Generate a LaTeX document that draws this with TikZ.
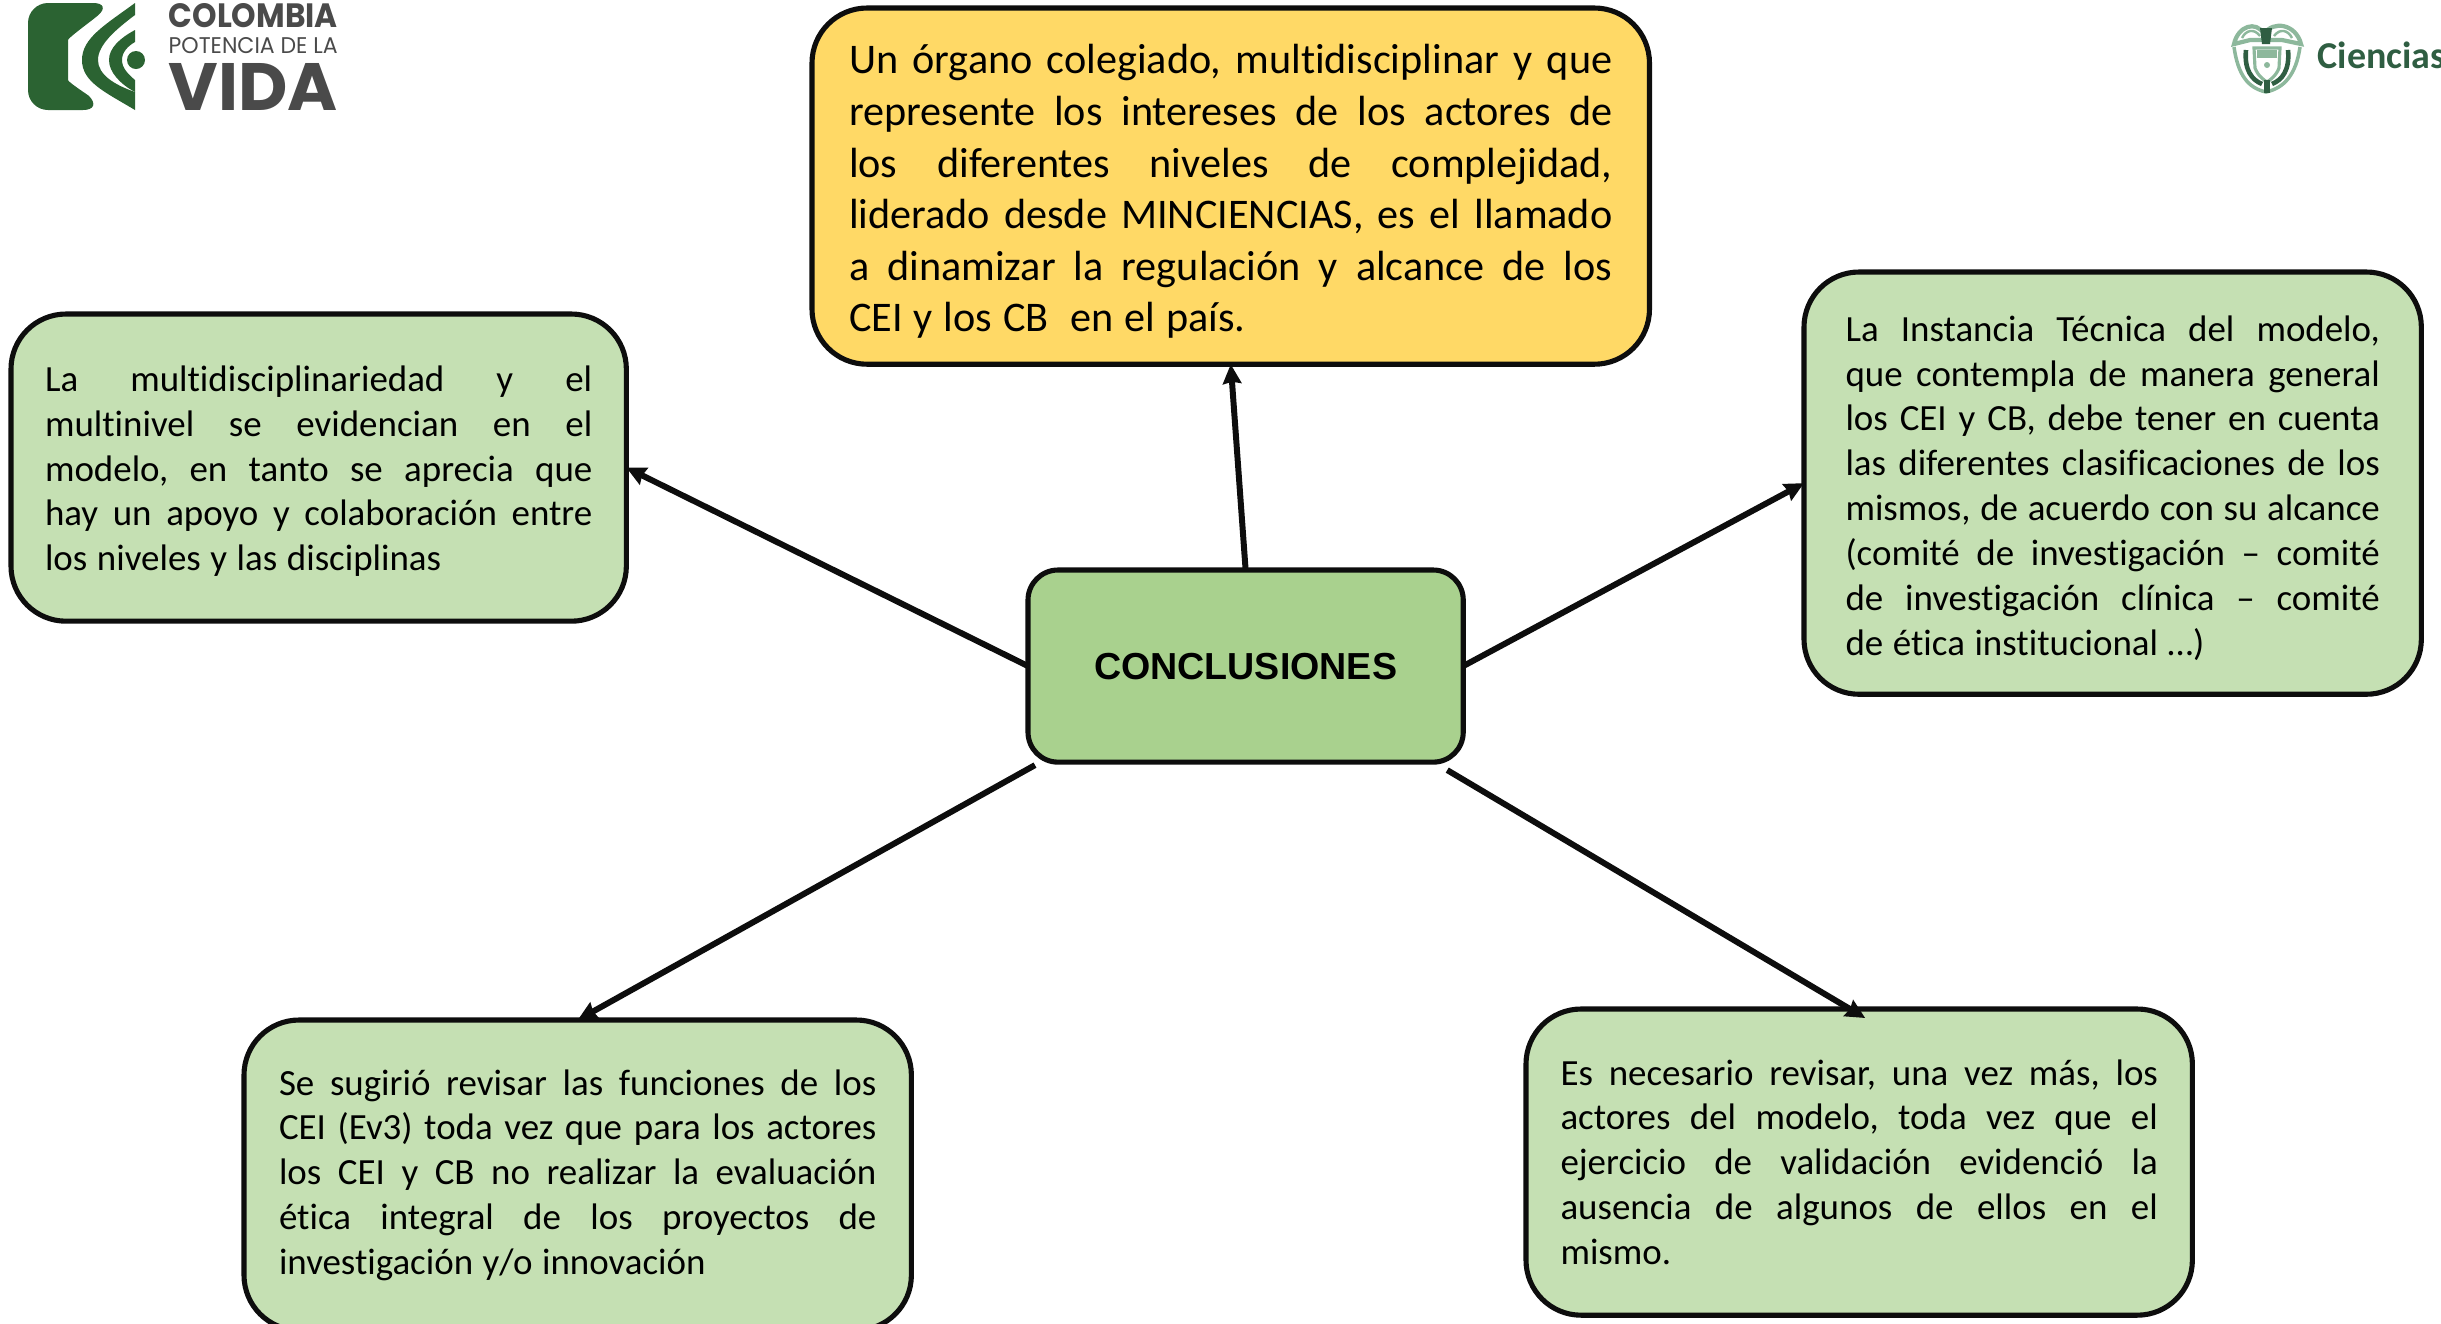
\documentclass[tikz,border=0pt]{standalone}
\usepackage{fontspec}
\setmainfont{Carlito}[Ligatures=NoCommon,WordSpace=1.15]
\newfontfamily\headfont{Liberation Sans}
\newfontfamily\logofont{Poppins}
\newfontfamily\cienfont{Carlito}
\definecolor{boxgreen}{HTML}{C5E0B3}
\definecolor{hubgreen}{HTML}{A9D18E}
\definecolor{boxyellow}{HTML}{FFD966}
\definecolor{linek}{HTML}{0D0D0D}
\definecolor{logogreen}{HTML}{2B6332}
\definecolor{logogray}{HTML}{4A4A4A}
\definecolor{ciengreen}{HTML}{2F5E42}
\definecolor{armlight}{HTML}{8DB89C}
\newcommand{\jl}[1]{\makebox[\hsize][s]{\spaceskip=0pt\xspaceskip=0pt\frenchspacing #1}\\}
\newcommand{\lastl}[1]{{\spaceskip=0pt\xspaceskip=0pt\frenchspacing #1}}
\usetikzlibrary{arrows.meta}
\tikzset{
  panel/.style={draw=linek,line width=1.45pt,rounded corners=0.55cm,inner sep=0pt,outer sep=0pt,anchor=north west,align=left},
  link/.style={draw=linek,line width=1.7pt,-{Stealth[length=5.5pt,width=5.2pt,inset=0.5pt]}},
}
\begin{document}
\begin{tikzpicture}[x=0.01cm,y=-0.01cm]
\useasboundingbox (0,0) rectangle (2441,1323);
\begin{scope}
\clip (0,0) rectangle (2441,1323);
% logo left
\fill[logogreen,rounded corners=0.2cm] (28,3) -- (113,3) .. controls (90,22) and (68,38) .. (68,60) .. controls (68,82) and (88,95) .. (103,110) -- (28,110) -- cycle;
\fill[logogreen] (135,3) .. controls (105,25) and (82,38) .. (82,60) .. controls (82,82) and (105,92) .. (135,110) -- (135,92) .. controls (115,85) and (98,75) .. (98,60) .. controls (98,45) and (115,30) .. (135,15) -- cycle;
\fill[logogreen] (135,30) .. controls (120,38) and (109,48) .. (109,60) .. controls (109,72) and (120,84) .. (135,92) -- (135,80) .. controls (128,74) and (122,68) .. (122,60) .. controls (122,52) and (128,46) .. (135,42) -- cycle;
\fill[logogreen] (136,60) circle [radius=9];
\node[inner sep=0pt,anchor=west,text=logogray] (logoa) at (168,16) {\resizebox{1.69cm}{0.24cm}{\logofont\bfseries COLOMBIA}};
\node[inner sep=0pt,anchor=west,text=logogray] (logob) at (168,46) {\resizebox{1.69cm}{0.16cm}{\logofont POTENCIA DE LA}};
\node[inner sep=0pt,anchor=west,text=logogray] (logoc) at (168,87) {\resizebox{1.69cm}{0.47cm}{\logofont\bfseries VIDA}};
% logo right
\draw[armlight,line width=1.2pt] (2234,44) .. controls (2238,26) and (2256,20) .. (2264,34) .. controls (2273,20) and (2296,24) .. (2301,44) -- (2282,40) -- (2250,40) -- cycle;
\draw[armlight,line width=0.7pt] (2242,38) .. controls (2246,30) and (2254,28) .. (2260,36);
\draw[armlight,line width=0.7pt] (2292,38) .. controls (2288,30) and (2280,28) .. (2274,36);
\fill[ciengreen] (2260,28) -- (2272,28) -- (2270,44) -- (2262,44) -- cycle;
\draw[armlight,line width=1.0pt] (2234,47) .. controls (2238,75) and (2248,88) .. (2266,92) .. controls (2284,88) and (2296,75) .. (2300,47);
\draw[ciengreen,line width=1.3pt] (2246,50) .. controls (2244,70) and (2252,80) .. (2262,84);
\draw[ciengreen,line width=1.3pt] (2288,50) .. controls (2290,70) and (2282,80) .. (2272,84);
\draw[armlight,line width=0.9pt] (2254,48) -- (2280,48) -- (2279,68) .. controls (2276,76) and (2270,80) .. (2267,82) .. controls (2264,80) and (2258,76) .. (2255,68) -- cycle;
\fill[armlight] (2257,50) rectangle (2277,58);
\fill[armlight] (2267,65) circle [radius=3];
\fill[ciengreen] (2264,80) rectangle (2270,93);
\node[inner sep=0pt,anchor=base west,text=ciengreen,font=\cienfont\bfseries\fontsize{10.8}{13}\selectfont] (cien) at (2317,68) {Ciencias};
% boxes
\node[panel,fill=boxyellow,minimum width=8.37cm,minimum height=3.56cm,text width=7.63cm,font=\fontsize{12}{14.65}\selectfont] (top) at (812,8) {\jl{\rule{0pt}{11.4pt}Un órgano colegiado, multidisciplinar y que}\jl{represente los intereses de los actores de}\jl{los diferentes niveles de complejidad,}\jl{liderado desde MINCIENCIAS, es el llamado}\jl{a dinamizar la regulación y alcance de los}\lastl{CEI y los CB\ \ en el país.}};
\node[panel,fill=boxgreen,minimum width=6.15cm,minimum height=3.07cm,text width=5.47cm,font=\fontsize{10.5}{12.75}\selectfont] (left) at (11,314) {\jl{\rule{0pt}{9.4pt}La multidisciplinariedad y el}\jl{multinivel se evidencian en el}\jl{modelo, en tanto se aprecia que}\jl{hay un apoyo y colaboración entre}\lastl{los niveles y las disciplinas}};
\node[panel,fill=boxgreen,minimum width=6.17cm,minimum height=4.22cm,text width=5.34cm,font=\fontsize{10.5}{12.75}\selectfont] (right) at (1804,272) {\jl{\rule{0pt}{10pt}La Instancia Técnica del modelo,}\jl{que contempla de manera general}\jl{los CEI y CB, debe tener en cuenta}\jl{las diferentes clasificaciones de los}\jl{mismos, de acuerdo con su alcance}\jl{(comité de investigación – comité}\jl{de investigación clínica – comité}\lastl{de ética institucional …)}};
\node[panel,fill=boxgreen,minimum width=6.67cm,minimum height=3.1cm,text width=5.97cm,font=\fontsize{10.5}{12.75}\selectfont] (bl) at (244,1020) {\jl{Se sugirió revisar las funciones de los}\jl{CEI (Ev3) toda vez que para los actores}\jl{los CEI y CB no realizar la evaluación}\jl{ética integral de los proyectos de}\lastl{investigación y/o innovación}};
\node[panel,fill=boxgreen,minimum width=6.66cm,minimum height=3.06cm,text width=5.97cm,font=\fontsize{10.5}{12.75}\selectfont] (br) at (1526,1009) {\jl{Es necesario revisar, una vez más, los}\jl{actores del modelo, toda vez que el}\jl{ejercicio de validación evidenció la}\jl{ausencia de algunos de ellos en el}\lastl{mismo.}};
\node[panel,fill=hubgreen,minimum width=4.35cm,minimum height=1.92cm,align=center,rounded corners=0.3cm,font=\headfont\bfseries\fontsize{10.7}{14}\selectfont] (hub) at (1028,570) {CONCLUSIONES};
% links
\draw[link] (hub.north) -- (top.south);
\draw[link] (hub.west) -- (left.east);
\draw[link] (hub.east) -- (right.west);
\draw[link] ([shift={(7,3)}]hub.south west) -- (bl.north);
\draw[link] ([shift={(-16,8)}]hub.south east) -- ([shift={(6,9)}]br.north);
\end{scope}
\end{tikzpicture}
\end{document}
